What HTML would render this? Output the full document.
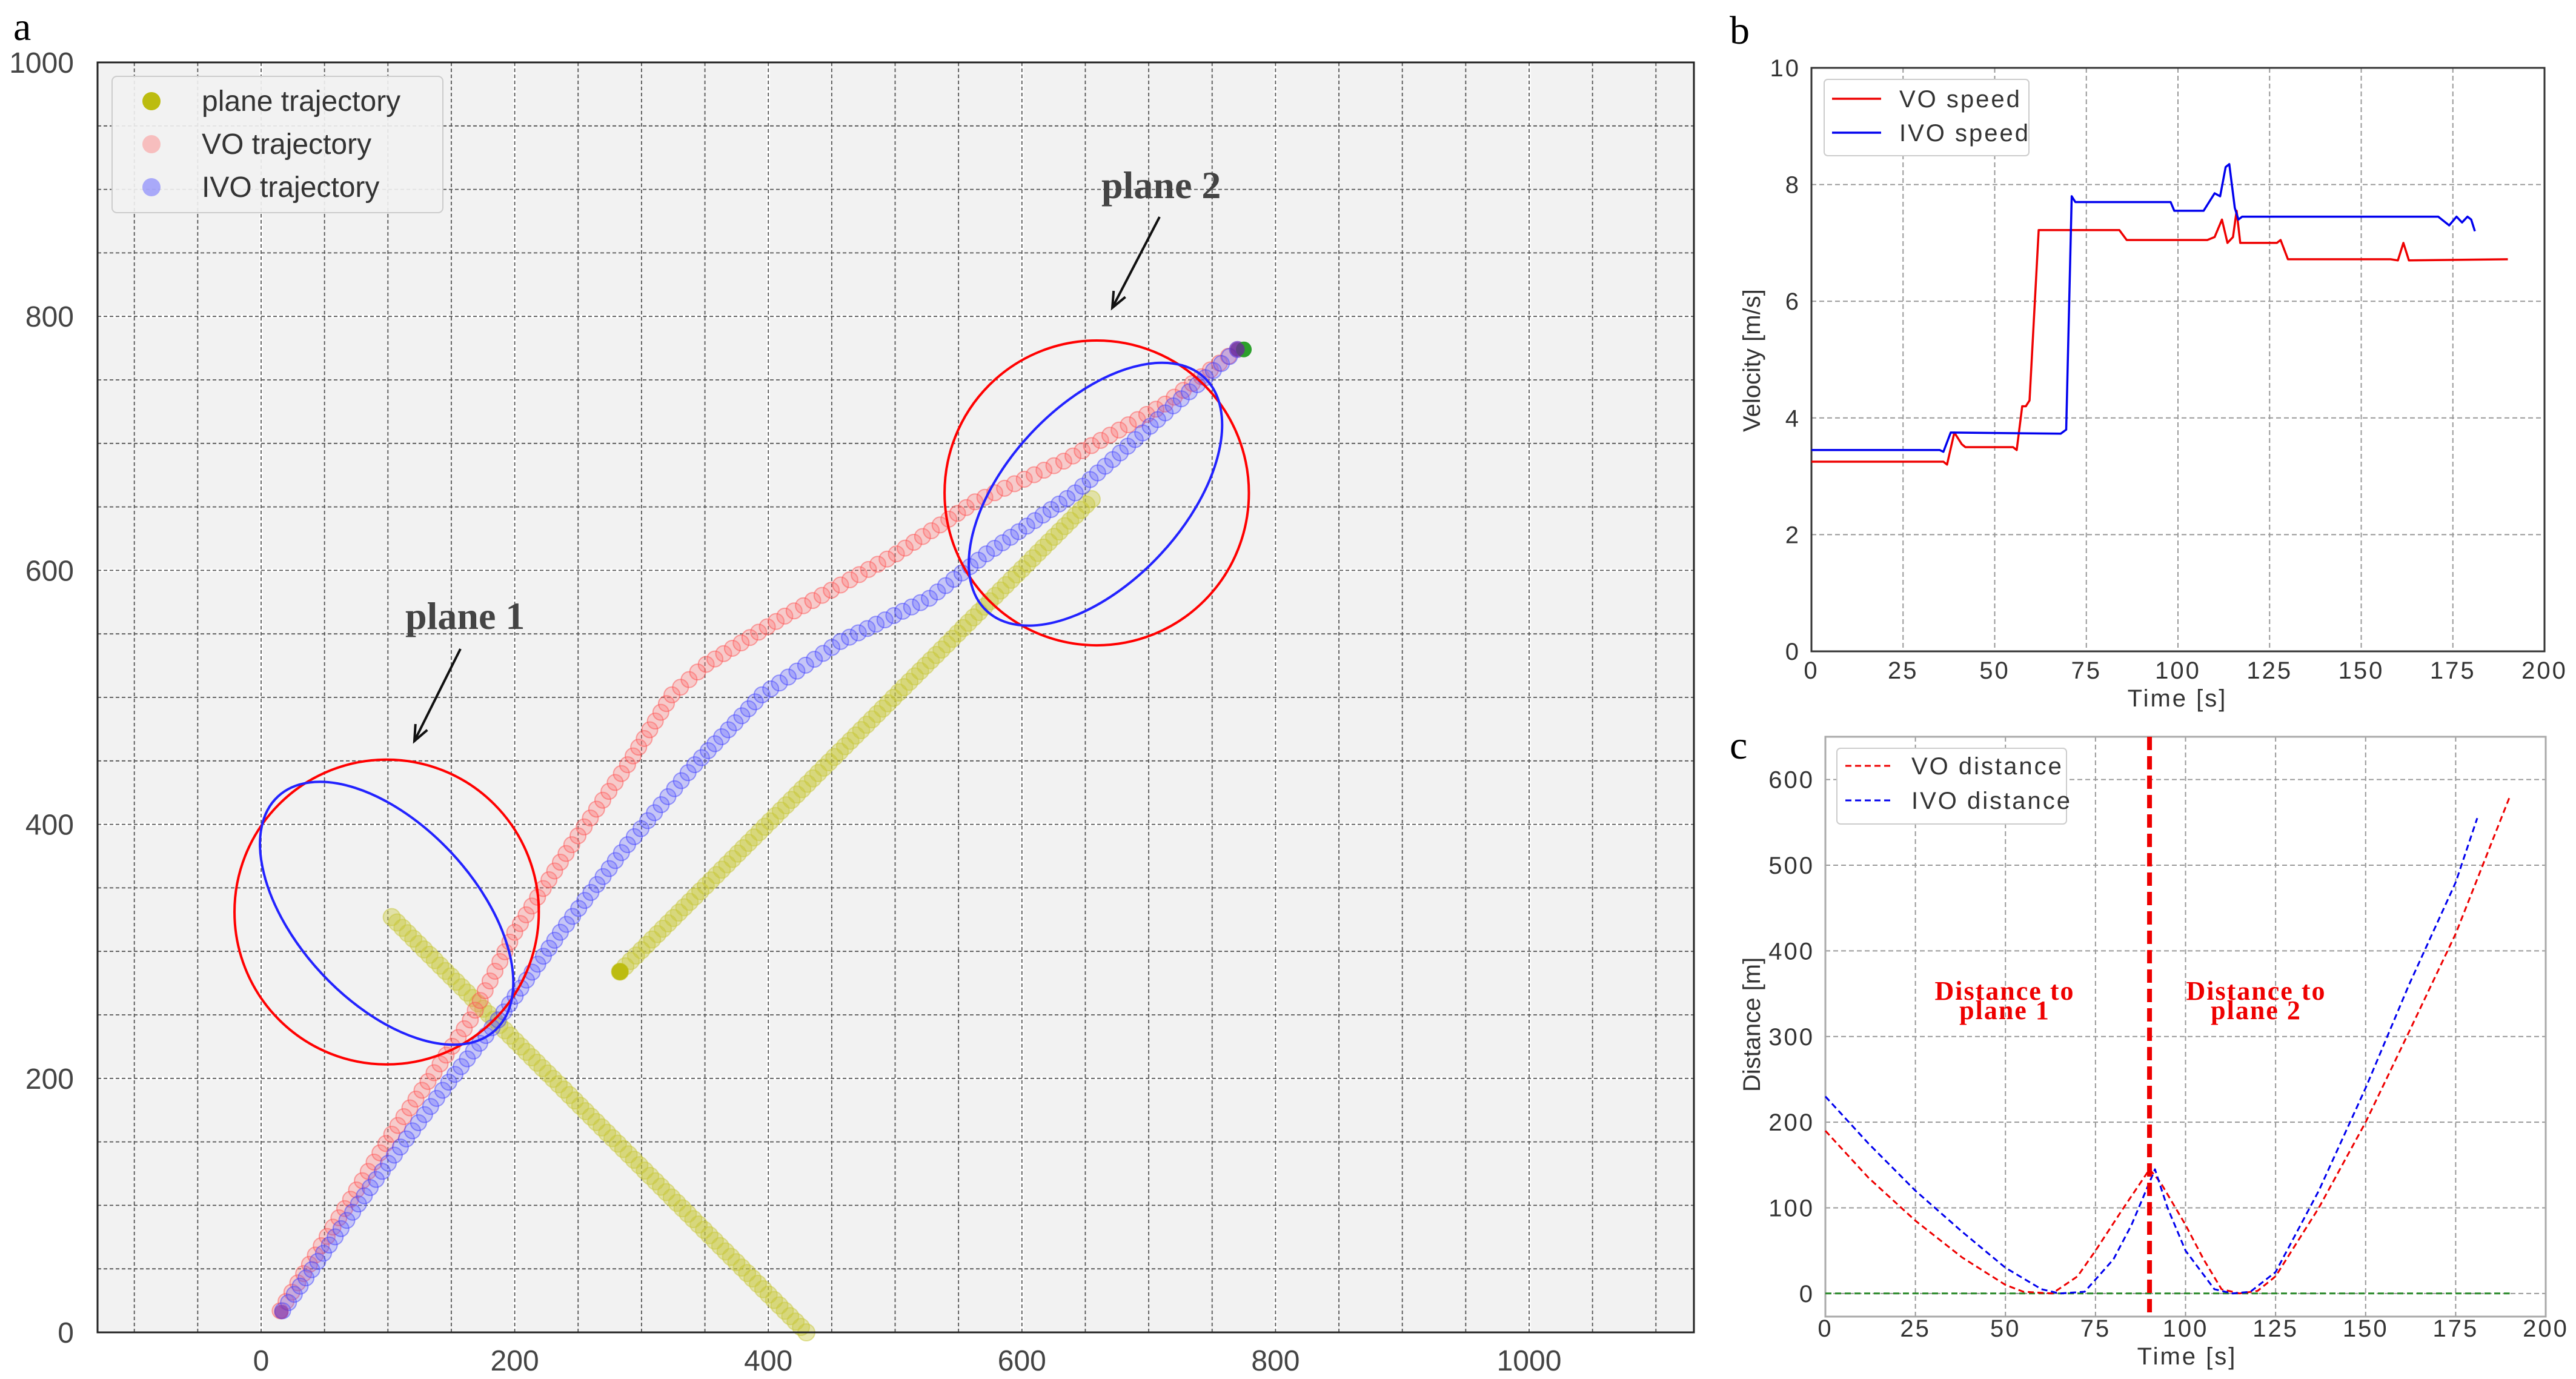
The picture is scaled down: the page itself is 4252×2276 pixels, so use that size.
<!DOCTYPE html>
<html><head><meta charset="utf-8"><style>
html,body{margin:0;padding:0;background:#fff;}
svg{display:block;}
text{font-family:"Liberation Sans","DejaVu Sans",sans-serif;}
.serif{font-family:"Liberation Serif","DejaVu Serif",serif;}
</style></head><body>
<svg id="fig" width="4252" height="2276" viewBox="0 0 4252 2276" xmlns="http://www.w3.org/2000/svg">
<g id="pa"></g>
<g id="pb"></g>
<g id="pc"></g>
</svg>
<script>
// ---------- Panel a data ----------
const voTrajX = [15,103,165,200,245,289,324,351,413,501,563,633,713,770];
const voTrajY = [17,156,246,315,384,447,502,526,564,613,654,686,731,774];
const ivoTrajX = [17,86,148,187,236,289,342,395,457,527,572,642,713,770];
const ivoTrajY = [17,114,197,246,315,384,447,502,544,578,613,661,724,774];
const plane1X = [103,430];
const plane1Y = [327,0];
const plane2X = [283,655];
const plane2Y = [284,656];
const aTicks = [0,200,400,600,800,1000];
// ---------- Panel b data ----------
const voSpeedT = [0,36,37,39,41,42,55,56,57.5,58.5,59.5,62,84,86,108,110,112,113.5,115,116,117,127,128,130,158,160,161.5,163,190];
const voSpeedV = [3.25,3.25,3.2,3.75,3.55,3.5,3.5,3.45,4.2,4.2,4.3,7.22,7.22,7.05,7.05,7.1,7.4,7.0,7.1,7.55,7.0,7.0,7.05,6.72,6.72,6.7,7.0,6.7,6.72];
const ivoSpeedT = [0,35,36,38,68,69.5,71,72,98,99,107,110,111.5,113,114,115.5,116.5,117.5,171,174,176,177.5,179,180,181];
const ivoSpeedV = [3.45,3.45,3.42,3.75,3.73,3.8,7.8,7.7,7.7,7.55,7.55,7.85,7.8,8.3,8.35,7.6,7.4,7.45,7.45,7.3,7.45,7.35,7.45,7.4,7.2];
const bXTicks = [0,25,50,75,100,125,150,175,200];
const bYTicks = [0,2,4,6,8,10];
// ---------- Panel c data ----------
const voDistT = [0,12,25,38,50,55,63,70,75,82,90,93,100,105,110,115,120,125,137,150,162,175,190];
const voDistD = [190,135,85,42,10,2,0,20,50,95,145,130,80,40,5,0,3,20,100,200,305,420,580];
const ivoDistT = [0,12,25,38,50,60,65,72,80,85,90,91.5,95,100,108,113,118,125,137,150,162,175,181];
const ivoDistD = [230,175,120,72,30,5,0,2,40,80,130,145,100,50,5,0,2,25,120,240,360,480,555];
const cXTicks = [0,25,50,75,100,125,150,175,200];
const cYTicks = [0,100,200,300,400,500,600];
const splitTime = [90];

const NS="http://www.w3.org/2000/svg";
function mk(parent,tag,attrs,txt){const e=document.createElementNS(NS,tag);for(const k in attrs)e.setAttribute(k,attrs[k]);if(txt!==undefined)e.textContent=txt;parent.appendChild(e);return e;}

// ===== Panel A =====
(function(){
const g=document.getElementById('pa');
const L=161,R=2796,T=103,B=2199;
const sx=v=>431+(v)*2.093, sy=v=>B-(v)*2.096;
let bg=mk(g,'rect',{x:L,y:T,width:R-L,height:B-T,fill:'#f2f2f2'});


for(const v of [0,200,400,600,800,1000]){
  let l=mk(g,'line',{x1:sx(v),x2:sx(v),y1:T,y2:B,stroke:'#fff','stroke-width':5});
  
  let h=mk(g,'line',{x1:L,x2:R,y1:sy(v),y2:sy(v),stroke:'#fff','stroke-width':5});
  
}
for(let v=-100;v<=1100;v+=50){
  let l=mk(g,'line',{x1:sx(v),x2:sx(v),y1:T,y2:B,stroke:'#555','stroke-width':1.8,'stroke-dasharray':'6,4'});
  
}
for(let v=50;v<1000;v+=50){
  let l=mk(g,'line',{x1:L,x2:R,y1:sy(v),y2:sy(v),stroke:'#555','stroke-width':1.8,'stroke-dasharray':'6,4'});
  
}
function series(xs,ys,step,r,fill,stroke,name,op){
  const gg=mk(g,'g',{});
  
  for(let i=0;i<xs.length-1;i++){
    const dx=xs[i+1]-xs[i],dy=ys[i+1]-ys[i];const d=Math.hypot(dx,dy);const n=Math.max(1,Math.round(d/step));
    for(let k=0;k<n;k++){const t=k/n;
      const c=mk(gg,'circle',{cx:sx(xs[i]+dx*t),cy:sy(ys[i]+dy*t),r:r,fill:fill,'fill-opacity':op,stroke:stroke,'stroke-opacity':0.5,'stroke-width':2});
      }
  }
  const c=mk(gg,'circle',{cx:sx(xs[xs.length-1]),cy:sy(ys[ys.length-1]),r:r,fill:fill,'fill-opacity':op,stroke:stroke,'stroke-opacity':0.5,'stroke-width':2});
  
}
series(plane1X,plane1Y,6,14,'#c8c83a','#c8c83a','plane1-trajectory',0.4);
series(plane2X,plane2Y,6,14,'#c8c83a','#c8c83a','plane2-trajectory',0.4);
let st=mk(g,'circle',{cx:sx(plane2X[0]),cy:sy(plane2Y[0]),r:14,fill:'#bcbc10'});

series(voTrajX,voTrajY,8.5,13,'#ff7070','#ff5050','vo-trajectory',0.3);
series(ivoTrajX,ivoTrajY,8,13,'#6060ff','#4040ff','ivo-trajectory',0.3);
let gr=mk(g,'circle',{cx:sx(775),cy:sy(774),r:13,fill:'#2ca02c'});

let pu=mk(g,'circle',{cx:sx(770),cy:sy(774),r:12,fill:'#6a2a9a','fill-opacity':0.8});

let pu2=mk(g,'circle',{cx:sx(16),cy:sy(16),r:12,fill:'#8a3aaa','fill-opacity':0.7});

const rc=[[99,331],[659,661]];
rc.forEach((c,i)=>{let e=mk(g,'ellipse',{cx:sx(c[0]),cy:sy(c[1]),rx:120*2.093,ry:120*2.096,fill:'none',stroke:'#f00','stroke-width':4});
  });
let e1=mk(g,'ellipse',{cx:sx(99),cy:sy(330),rx:126*2.09,ry:70*2.09,fill:'none',stroke:'#22f','stroke-width':4,transform:`rotate(47 ${sx(99)} ${sy(330)})`});

let e2=mk(g,'ellipse',{cx:sx(658),cy:sy(660),rx:126*2.09,ry:70*2.09,fill:'none',stroke:'#22f','stroke-width':4,transform:`rotate(-47 ${sx(658)} ${sy(660)})`});

let t1=mk(g,'text',{x:669,y:1038,'font-size':64,'font-weight':'bold',fill:'#444',class:'serif'},'plane 1');

let t2=mk(g,'text',{x:1818,y:327,'font-size':64,'font-weight':'bold',fill:'#444',class:'serif'},'plane 2');

function arrow(x1,y1,x2,y2,name){const a=mk(g,'g',{});
  mk(a,'line',{x1,y1,x2,y2,stroke:'#111','stroke-width':4});
  const ang=Math.atan2(y2-y1,x2-x1),L2=28;
  mk(a,'polyline',{points:`${x2-L2*Math.cos(ang-0.4)},${y2-L2*Math.sin(ang-0.4)} ${x2},${y2} ${x2-L2*Math.cos(ang+0.4)},${y2-L2*Math.sin(ang+0.4)}`,fill:'none',stroke:'#111','stroke-width':4});}
arrow(760,1071,684,1223,'plane1-arrow');
arrow(1914,358,1836,508,'plane2-arrow');
let fr=mk(g,'rect',{x:L,y:T,width:R-L,height:B-T,fill:'none',stroke:'#222','stroke-width':3});

aTicks.forEach(v=>{
  let a=mk(g,'text',{x:sx(v),y:2262,'font-size':48,fill:'#444','text-anchor':'middle'},String(v));
  
  let b=mk(g,'text',{x:122,y:sy(v)+17,'font-size':48,fill:'#444','text-anchor':'end'},String(v));
  
});
const lg=mk(g,'g',{});
mk(lg,'rect',{x:185,y:126,width:546,height:225,rx:8,fill:'#f2f2f2','fill-opacity':0.9,stroke:'#ccc','stroke-width':2});
[['plane trajectory','#bcbc10',1],['VO trajectory','#ff7070',0.4],['IVO trajectory','#6060ff',0.5]].forEach((it,i)=>{
  const y=167+i*71;
  const e=mk(lg,'g',{});
  mk(e,'circle',{cx:250,cy:y,r:15,fill:it[1],'fill-opacity':it[2]});
  mk(e,'text',{x:333,y:y+16,'font-size':48,fill:'#333'},it[0]);
});
let la=mk(g,'text',{x:22,y:66,'font-size':66,fill:'#000',class:'serif'},'a');

})();

function linePanel(gid,L,R,T,B,xmin,xmax,ymin,ymax,xt,yt,opts){
  const g=document.getElementById(gid);
  const sx=v=>L+(v-xmin)/(xmax-xmin)*(R-L), sy=v=>B-(v-ymin)/(ymax-ymin)*(B-T);
  xt.forEach(v=>{let l=mk(g,'line',{x1:sx(v),x2:sx(v),y1:T,y2:B,stroke:'#999','stroke-width':2,'stroke-dasharray':'8,5'});
    
    let t=mk(g,'text',{x:sx(v),y:opts.xtY,'font-size':40,fill:'#333','text-anchor':'middle','letter-spacing':3},String(v));
    });
  yt.forEach(v=>{let l=mk(g,'line',{x1:L,x2:R,y1:sy(v),y2:sy(v),stroke:'#999','stroke-width':2,'stroke-dasharray':'8,5'});
    
    let t=mk(g,'text',{x:L-18,y:sy(v)+14,'font-size':40,fill:'#333','text-anchor':'end','letter-spacing':3},String(v));
    });
  let fr=mk(g,'rect',{x:L,y:T,width:R-L,height:B-T,fill:'none',stroke:opts.frame,'stroke-width':3});
  
  return {g,sx,sy};
}
function path(p,ts,vs,color,w,dash,name){
  let d='';ts.forEach((t,i)=>{d+=(i?'L':'M')+p.sx(t).toFixed(1)+','+p.sy(vs[i]).toFixed(1);});
  const e=mk(p.g,'path',{d,fill:'none',stroke:color,'stroke-width':w,'stroke-linejoin':'round'});
  if(dash)e.setAttribute('stroke-dasharray',dash);
  
}
(function(){
const p=linePanel('pb',2990,4200,112,1075,0,200,0,10,bXTicks,bYTicks,{xtY:1120,frame:'#333'});
path(p,voSpeedT,voSpeedV,'#e00',3.5,null,'vo-speed-line');
path(p,ivoSpeedT,ivoSpeedV,'#00e',3.5,null,'ivo-speed-line');
const g=p.g;
let xl=mk(g,'text',{x:3594,y:1166,'font-size':40,fill:'#333','text-anchor':'middle','letter-spacing':3},'Time [s]');

let yl=mk(g,'text',{x:0,y:0,'font-size':40,fill:'#333','text-anchor':'middle',transform:'translate(2905,595) rotate(-90)'},'Velocity [m/s]');

const lg=mk(g,'g',{});
mk(lg,'rect',{x:3011,y:131,width:338,height:126,rx:6,fill:'#fff',stroke:'#ccc','stroke-width':2});
[['VO speed','#e00',163],['IVO speed','#00e',219]].forEach(it=>{const e=mk(lg,'g',{});
  mk(e,'line',{x1:3024,x2:3105,y1:it[2],y2:it[2],stroke:it[1],'stroke-width':3.5});
  mk(e,'text',{x:3135,y:it[2]+14,'font-size':40,fill:'#333','letter-spacing':3},it[0]);});
let lb=mk(g,'text',{x:2855,y:72,'font-size':66,fill:'#000',class:'serif'},'b');

})();
(function(){
const p=linePanel('pc',3013,4202,1216,2173,0,200,-27,650,cXTicks,cYTicks,{xtY:2206,frame:'#aaa'});
path(p,[0,190],[0,0],'#2a8a2a',3,'10,6','zero-line');
path(p,voDistT,voDistD,'#e00',3,'10,6','vo-distance-line');
path(p,ivoDistT,ivoDistD,'#00e',3,'10,6','ivo-distance-line');
const g=p.g;
let sl=mk(g,'line',{x1:p.sx(splitTime[0]),x2:p.sx(splitTime[0]),y1:1216,y2:2173,stroke:'#e00','stroke-width':8,'stroke-dasharray':'22,10'});

[['Distance to','plane 1',3309],['Distance to','plane 2',3724]].forEach((t,i)=>{
  const e=mk(g,'text',{x:t[2],y:1650,'font-size':44,'font-weight':'bold',fill:'#e00','text-anchor':'middle',class:'serif','letter-spacing':2});
  
  mk(e,'tspan',{x:t[2],dy:0},t[0]);mk(e,'tspan',{x:t[2],dy:32},t[1]);});
let xl=mk(g,'text',{x:3610,y:2252,'font-size':40,fill:'#333','text-anchor':'middle','letter-spacing':3},'Time [s]');

let yl=mk(g,'text',{x:0,y:0,'font-size':40,fill:'#333','text-anchor':'middle',transform:'translate(2905,1691) rotate(-90)'},'Distance [m]');

const lg=mk(g,'g',{});
mk(lg,'rect',{x:3032,y:1235,width:379,height:125,rx:6,fill:'#fff',stroke:'#ccc','stroke-width':2});
[['VO distance','#e00',1264],['IVO distance','#00e',1321]].forEach(it=>{const e=mk(lg,'g',{});
  mk(e,'line',{x1:3046,x2:3124,y1:it[2],y2:it[2],stroke:it[1],'stroke-width':3,'stroke-dasharray':'10,6'});
  mk(e,'text',{x:3155,y:it[2]+14,'font-size':40,fill:'#333','letter-spacing':3},it[0]);});
let lc=mk(g,'text',{x:2855,y:1252,'font-size':66,fill:'#000',class:'serif'},'c');

})();
</script>
</body></html>
